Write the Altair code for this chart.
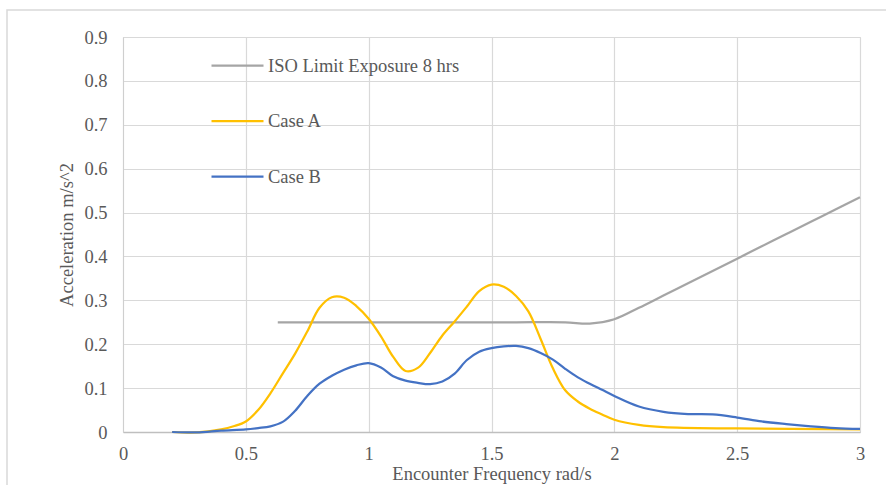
import altair as alt
import pandas as pd

# ---- data ----
iso_x = [0.63, 0.8, 1.0, 1.2, 1.4, 1.6, 1.8, 1.9, 2.0, 2.1, 2.2, 2.3, 2.4, 2.5, 2.6, 2.7, 2.8, 2.9, 3.0]
iso_y = [0.25, 0.25, 0.25, 0.25, 0.25, 0.25, 0.25, 0.247, 0.257,
         0.283, 0.311, 0.339, 0.367, 0.395, 0.423, 0.451, 0.479, 0.507, 0.535]

a_x = [0.2, 0.3, 0.4, 0.45, 0.5, 0.55, 0.6, 0.65, 0.7, 0.75, 0.8, 0.85, 0.9, 0.95, 1.0, 1.05, 1.1,
       1.15, 1.2, 1.25, 1.3, 1.35, 1.4, 1.45, 1.5, 1.55, 1.6, 1.65, 1.7, 1.75, 1.8, 1.85, 1.9, 1.95,
       2.0, 2.1, 2.2, 2.5, 3.0]
a_y = [0.0, -0.001, 0.006, 0.013, 0.024, 0.050, 0.088, 0.133, 0.178, 0.229, 0.283, 0.307, 0.306,
       0.287, 0.258, 0.218, 0.171, 0.139, 0.146, 0.180, 0.220, 0.252, 0.286, 0.321, 0.336, 0.331,
       0.310, 0.275, 0.212, 0.145, 0.095, 0.070, 0.053, 0.040, 0.028, 0.016, 0.011, 0.008, 0.006]

b_x = [0.2, 0.3, 0.4, 0.5, 0.55, 0.6, 0.65, 0.7, 0.75, 0.8, 0.85, 0.9, 0.95, 1.0, 1.05, 1.1, 1.15, 1.2,
       1.25, 1.3, 1.35, 1.4, 1.45, 1.5, 1.55, 1.6, 1.65, 1.7, 1.75, 1.8, 1.85, 1.9, 1.95, 2.0, 2.1, 2.2,
       2.3, 2.4, 2.5, 2.6, 2.7, 2.8, 2.9, 3.0]
b_y = [0.0, -0.001, 0.003, 0.006, 0.009, 0.013, 0.023, 0.048, 0.082, 0.110, 0.128, 0.142, 0.152, 0.157,
       0.147, 0.127, 0.117, 0.112, 0.109, 0.115, 0.133, 0.164, 0.183, 0.191, 0.195, 0.196, 0.191, 0.180,
       0.165, 0.144, 0.125, 0.110, 0.096, 0.082, 0.058, 0.046, 0.041, 0.040, 0.033, 0.024, 0.018, 0.013,
       0.009, 0.007]

series_names = ["ISO Limit Exposure 8 hrs", "Case A", "Case B"]
series_colors = ["#A5A5A5", "#FFC000", "#4472C4"]

x_ticks = [0, 0.5, 1, 1.5, 2, 2.5, 3]
y_ticks = [0, 0.1, 0.2, 0.3, 0.4, 0.5, 0.6, 0.7, 0.8, 0.9]

rows = []
for name, xs, ys in zip(series_names, [iso_x, a_x, b_x], [iso_y, a_y, b_y]):
    for i, (xv, yv) in enumerate(zip(xs, ys)):
        rows.append({"series": name, "freq": xv, "acc": yv, "order": i})
df = pd.DataFrame(rows)

FONT = "Liberation Serif"
LBL = "#595959"
FS = 18.5

lines = alt.Chart(df).mark_line(strokeWidth=2.25, interpolate="catmull-rom", clip=False).encode(
    x=alt.X("freq:Q", title="Encounter Frequency rad/s",
            scale=alt.Scale(domain=[0, 3], nice=False, zero=False),
            axis=alt.Axis(values=x_ticks, grid=True, ticks=False, labelPadding=12,
                          titlePadding=2, domainColor="#BFBFBF", domainWidth=1.5,
                          labelFlush=False, format="~g",
                          labelFont=FONT, labelFontSize=FS, labelColor=LBL,
                          titleFont=FONT, titleFontSize=FS, titleColor=LBL,
                          titleFontWeight="normal")),
    y=alt.Y("acc:Q", title="Acceleration m/s^2",
            scale=alt.Scale(domain=[0, 0.9], nice=False, zero=False),
            axis=alt.Axis(values=y_ticks, grid=True, ticks=False, labelPadding=16,
                          titlePadding=7, domainColor="#CFCFCF", domainWidth=1,
                          labelFlush=False, format="~g",
                          labelFont=FONT, labelFontSize=FS, labelColor=LBL,
                          titleFont=FONT, titleFontSize=FS, titleColor=LBL,
                          titleFontWeight="normal")),
    color=alt.Color("series:N",
                    scale=alt.Scale(domain=series_names, range=series_colors),
                    sort=series_names,
                    legend=alt.Legend(title=None, orient="none", legendX=87, legendY=1,
                                      symbolType="stroke", symbolSize=2704,
                                      symbolStrokeWidth=2.25, labelFont=FONT,
                                      labelFontSize=FS, labelColor=LBL,
                                      labelOffset=3, rowPadding=18.5, padding=0,
                                      labelLimit=400)),
    order="order:Q",
)

frame = alt.Chart(pd.DataFrame({"k": [0]})).mark_rect(
    fill=None, stroke="#D9D9D9", strokeWidth=1.5, clip=False
).encode(
    x=alt.value(-116), x2=alt.value(800), y=alt.value(-27), y2=alt.value(460)
)

chart = alt.layer(frame, lines).properties(
    width=737, height=395,
    autosize=alt.AutoSizeParams(type="none"),
    padding={"left": 123, "top": 37, "right": 26, "bottom": 53},
    background="white",
).configure_view(
    stroke="#D9D9D9", strokeWidth=1
).configure_axis(
    gridColor="#D9D9D9", gridWidth=1.2,
)

chart.save("out.html", embed_options={"renderer": "svg", "actions": False})
